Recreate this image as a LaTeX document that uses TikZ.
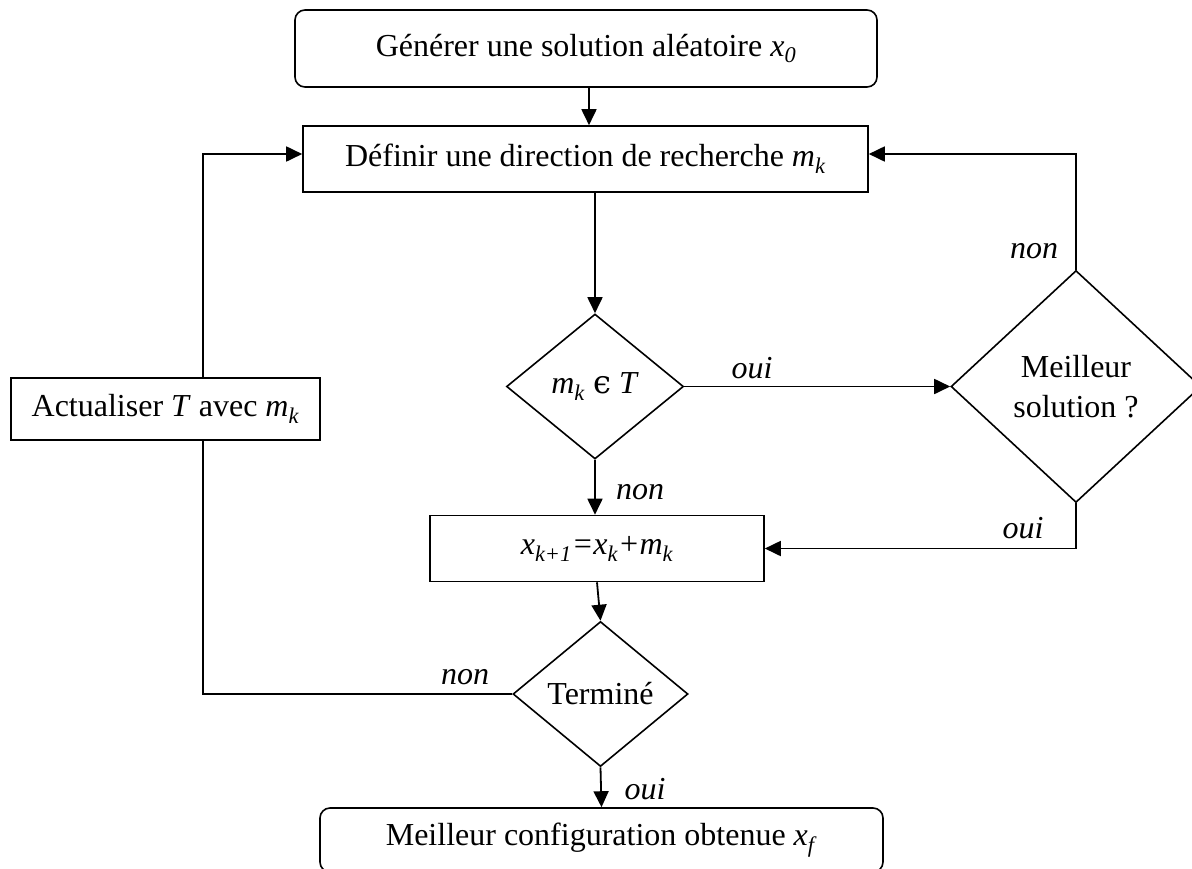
\documentclass[tikz,border=0pt]{standalone}
\usepackage{fontspec}
\setmainfont{Liberation Serif}
\newfontfamily\symfont{DejaVu Serif}
\usetikzlibrary{shapes.geometric,arrows.meta}
\newcommand\lo[1]{\textsubscript{#1}}
\begin{document}
\begin{tikzpicture}[x=1pt,y=-1pt,
  every node/.style={font=\fontsize{32}{40}\selectfont},
  conn/.style={line width=1.8pt},
  arr/.style={conn,-{Triangle[length=16pt,width=15pt]}},
  procbox/.style={draw,line width=1.6pt,inner sep=0pt},
  termbox/.style={procbox,rounded corners=10pt},
  decision/.style={draw,diamond,line width=1.6pt,inner sep=0pt,align=center},
  lbl/.style={font=\fontsize{32}{40}\selectfont\itshape}]
\useasboundingbox (0,0) rectangle (1192,868);

% process steps
\node[termbox, minimum width=582pt, minimum height=77pt] (start) at (586,48.5)
  {Générer une solution aléatoire \textit{x}\lo{\textit{0}}};
\node[procbox, minimum width=565pt, minimum height=66pt] (def) at (585.5,159)
  {Définir une direction de recherche \textit{m}\lo{\textit{k}}};
\node[decision, minimum width=177pt, minimum height=145pt] (q1) at (595,386.5)
  {\textit{m}\lo{\textit{k}} {\symfont ϵ} \textit{T}};
\node[decision, minimum width=250pt, minimum height=232pt] (q2) at (1076,386.5)
  {Meilleur\\solution ?};
\node[procbox, minimum width=334pt, minimum height=66pt] (upd) at (597,548.5)
  {\itshape x\lo{k+1}=x\lo{k}+m\lo{k}};
\node[decision, minimum width=175pt, minimum height=145pt] (done) at (600.5,694)
  {Terminé};
\node[procbox, minimum width=309pt, minimum height=62pt] (act) at (165.5,409)
  {Actualiser \textit{T} avec \textit{m}\lo{\textit{k}}};
\node[termbox, minimum width=563pt, minimum height=64pt] (fin) at (601.5,840)
  {Meilleur configuration obtenue \textit{x}\lo{\textit{f}}};

% connectors
\draw[arr] ([xshift=3pt]start.south) -- ([xshift=3.5pt]def.north);
\draw[arr] (q1.north |- def.south) -- (q1.north);
\draw[arr] (q1.east) -- (q2.west);
\draw[arr] (q2.north) |- ([yshift=5pt]def.east);
\draw[arr] (q2.south) |- (upd.east);
\draw[arr] (q1.south) -- (q1.south |- upd.north);
\draw[arr] (upd.south) -- (done.north);
\draw[conn] (done.west) -| ([xshift=37.5pt]act.south);
\draw[arr] ([xshift=37.5pt]act.north) |- ([yshift=5pt]def.west);
\draw[arr] (done.south) -- (fin.north);

% branch labels
\node[lbl] (oui1) at (752,368) {oui};
\node[lbl] (non1) at (1034,251) {non};
\node[lbl] (oui2) at (1023,528) {oui};
\node[lbl] (non2) at (640,492) {non};
\node[lbl] (non3) at (465,677) {non};
\node[lbl] (oui3) at (645,789) {oui};
\end{tikzpicture}
\end{document}
